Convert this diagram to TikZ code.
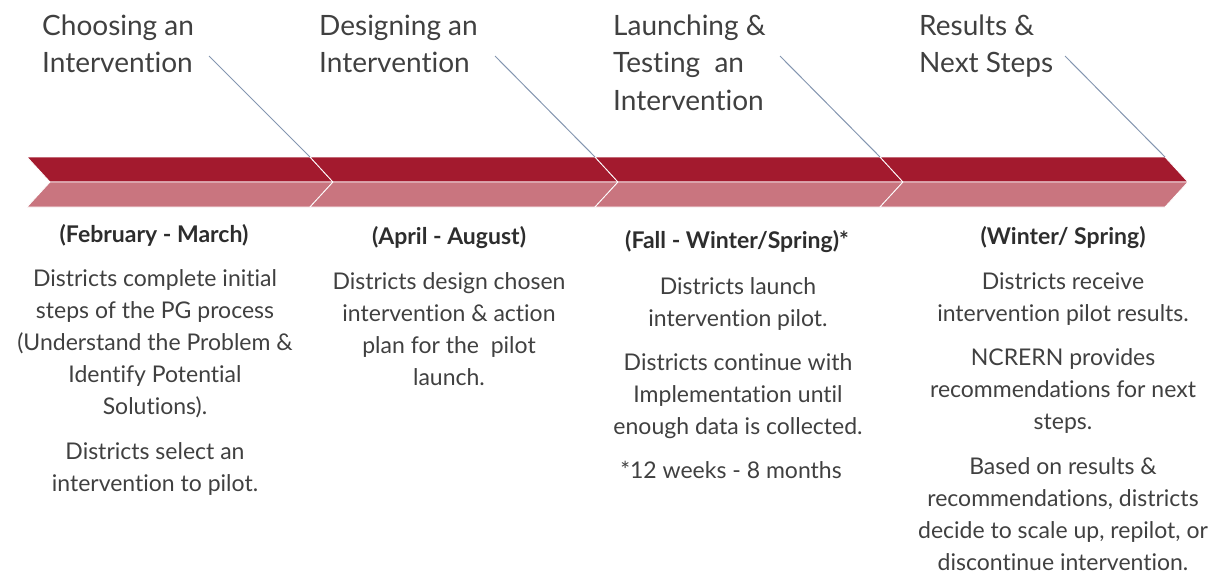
\documentclass[tikz,border=0pt]{standalone}
\usepackage{fontspec}
\setmainfont{Lato}[Ligatures={NoCommon}]
\definecolor{darkband}{RGB}{163,26,46}
\definecolor{lightband}{RGB}{201,117,127}
\definecolor{leader}{RGB}{132,150,176}
\definecolor{ink}{RGB}{64,64,64}
\tikzset{
  top/.style={fill=darkband, draw=white, line width=0.8pt},
  bottom/.style={fill=lightband, draw=white, line width=0.8pt},
  phase/.style={anchor=base west, align=left, inner sep=0pt, text=ink, font=\fontsize{28}{37.5}\selectfont},
  period/.style={anchor=base, inner sep=0pt, text=ink!70!black, font=\fontsize{23}{32}\selectfont\bfseries},
  detail/.style={anchor=base, align=center, inner sep=0pt, text=ink, font=\fontsize{23}{32}\selectfont},
  lead/.style={draw=leader, line width=1pt}
}
\begin{document}
\begin{tikzpicture}[x=1pt, y=-1pt, line join=round]
\useasboundingbox (0,0) rectangle (1217,587);
% chevron band
\draw[top] (27,157)--(310,157)--(333,182)--(50,182)--cycle;
\draw[bottom] (50,182)--(333,182)--(310,207)--(27,207)--cycle;
\draw[top] (310,157)--(595,157)--(618,182)--(333,182)--cycle;
\draw[bottom] (333,182)--(618,182)--(595,207)--(310,207)--cycle;
\draw[top] (595,157)--(880,157)--(903,182)--(618,182)--cycle;
\draw[bottom] (618,182)--(903,182)--(880,207)--(595,207)--cycle;
\draw[top] (880,157)--(1165,157)--(1188,182)--(903,182)--cycle;
\draw[bottom] (903,182)--(1188,182)--(1165,207)--(880,207)--cycle;
% phase titles (anchored at the last line's baseline)
\node[phase] (choose) at (42,72.5) {Choosing an\\Intervention};
\node[phase] (design) at (319,72.5) {Designing an\\Intervention};
\node[phase] (launch) at (613,110) {Launching \&\\Testing~ an\\Intervention};
\node[phase] (result) at (919,72.5) {Results \&\\Next Steps};
% leader lines
\coordinate (c1) at (209,56);
\coordinate (c2) at (495,56);
\coordinate (c3) at (780,56);
\coordinate (c4) at (1065,56);
\coordinate (b1) at (310,157);
\coordinate (b2) at (595,157);
\coordinate (b3) at (880,157);
\coordinate (b4) at (1165,157);
\draw[lead] (c1)--(b1);
\draw[lead] (c2)--(b2);
\draw[lead] (c3)--(b3);
\draw[lead] (c4)--(b4);
% periods
\node[period] (feb) at (154,242) {(February - March)};
\node[period] (apr) at (449,244) {(April - August)};
\node[period] (fall) at (737,248) {(Fall - Winter/Spring)*};
\node[period] (win) at (1063,244) {(Winter/ Spring)};
% details
\node[detail] (feb1) at (155,414) {Districts complete initial\\steps of the PG process\\(Understand the Problem \&\\Identify Potential\\Solutions).};
\node[detail] (feb2) at (155,491) {Districts select an\\intervention to pilot.};
\node[detail] (apr1) at (449,385) {Districts design chosen\\intervention \& action\\plan for the~ pilot\\launch.};
\node[detail] (fall1) at (738,326) {Districts launch\\intervention pilot.};
\node[detail] (fall2) at (738,434) {Districts continue with\\Implementation until\\enough data is collected.};
\node[detail] (fall3) at (731,478) {*12 weeks - 8 months};
\node[detail] (win1) at (1063,321) {Districts receive\\intervention pilot results.};
\node[detail] (win2) at (1063,429) {NCRERN provides\\recommendations for next\\steps.};
\node[detail] (win3) at (1063,570) {Based on results \&\\recommendations, districts\\decide to scale up, repilot, or\\discontinue intervention.};
\end{tikzpicture}
\end{document}
